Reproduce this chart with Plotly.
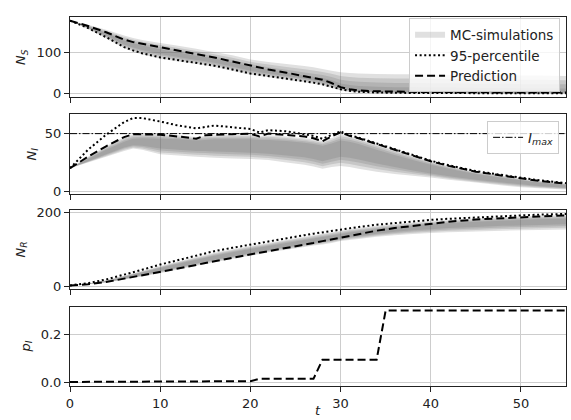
import plotly.graph_objects as go

# Time grid (days) shared by the compartment curves
T = [0, 2, 4, 6, 7, 8, 10, 12, 14, 15, 16, 18, 20, 21, 22, 24, 26, 27, 28, 29,
     30, 31, 32, 34, 36, 38, 40, 42, 45, 48, 50, 52, 55]

# Susceptible N_S
PRED_S = [176, 163, 148, 130, 124, 120, 112, 104, 96, 92, 87, 77, 67, 62, 58, 50, 42, 38, 33, 25,
          15, 10, 7, 5, 4, 3, 3, 3, 2, 2, 2, 2, 2]
Q95_S = [176, 158, 136, 112, 104, 97, 87, 80, 74, 71, 67, 58, 48, 45, 42, 36, 30, 26, 22, 16,
         10, 6, 4, 2, 1, 1, 1, 0.5, 0, 0, 0, 0, 0]
MC_HI_S = [176, 166, 154, 140, 134, 129, 122, 115, 108, 104, 100, 92, 82, 79, 76, 71, 66, 63, 59, 55,
           51, 49, 48, 47, 46, 46, 45, 45, 44, 44, 43, 43, 42]
MC_LO_S = [176, 156, 133, 109, 101, 94, 84, 77, 71, 68, 64, 55, 45, 42, 39, 33, 27, 23, 19, 13,
           7, 4, 2, 1, 0, 0, 0, 0, 0, 0, 0, 0, 0]
CORE_HI_S = [176, 162, 146, 128, 121, 116, 107, 99, 91, 88, 84, 75, 65, 61, 57, 50, 43, 40, 37, 32,
             24, 20, 18, 16, 15, 15, 14, 14, 13, 13, 12, 12, 12]
CORE_LO_S = [176, 159, 140, 118, 111, 105, 95, 88, 81, 78, 74, 65, 55, 51, 48, 42, 36, 32, 28, 21,
             13, 8, 6, 4, 3, 3, 3, 2, 2, 2, 2, 2, 2]

# Infected N_I
PRED_I = [20, 30, 39, 47, 49.5, 49.5, 49, 47.5, 45.5, 48.5, 49, 49.5, 50, 47.5, 50, 49, 47.5, 46, 43.5, 47.5,
          51, 48, 46, 41, 36, 31, 26, 22, 17, 13.5, 11, 9, 6.5]
Q95_I = [20, 36, 49, 60, 63.5, 63.5, 60.5, 57, 54.5, 56, 57, 55.5, 54, 51, 53, 52, 49.5, 48, 45.5, 48.5,
         52, 48.5, 46.5, 41.5, 36.5, 31.5, 26.5, 22.5, 17.5, 14, 11.5, 9.5, 7]
MC_HI_I = [20, 30, 39, 47, 49.5, 50, 49.5, 48.5, 47, 48, 48.5, 49, 49, 48, 48.5, 47.5, 46, 45, 43.5, 46,
           49.5, 48, 46, 41, 36, 31, 26, 22, 17, 13.5, 11, 9, 6.5]
MC_LO_I = [20, 25, 30, 35, 37, 36, 32, 31, 30, 29.5, 29, 28.5, 28, 27.5, 27, 25, 23, 21.5, 19.5, 21,
           22, 21, 19.5, 17, 15, 13.5, 12, 10, 7.5, 5, 3.5, 2.5, 1.5]
CORE_HI_I = [20, 28, 36, 43, 45.5, 46, 45.5, 45, 44, 44.5, 45, 45, 45, 44.5, 44.5, 43.5, 42, 41, 39.5, 41.5,
             44, 43, 41, 36, 31.5, 27, 23, 19.5, 15, 11.5, 9.5, 7.5, 5.5]
CORE_LO_I = [20, 26, 32, 38, 40, 39.5, 37, 36, 35, 35, 34.5, 34, 33.5, 33, 32.5, 31, 29.5, 28, 26, 28,
             30, 29, 27.5, 24, 21, 18, 15.5, 13, 10, 7.5, 6, 4.5, 3]
IMAX = 50

# Recovered N_R
PRED_R = [4, 7, 13, 22, 26, 30, 40, 50, 59, 64, 69, 78, 87, 92, 96, 104, 113, 118, 123, 128,
          133, 138, 143, 151, 158, 164, 170, 175, 181, 185, 187, 189, 192]
Q95_R = [4, 10, 20, 32, 39, 46, 60, 72, 84, 90, 96, 105, 114, 118, 122, 131, 139, 143, 147, 151,
         155, 158, 161, 167, 172, 176, 180, 183, 187, 190, 192, 194, 196]
MC_HI_R = [4, 9, 18, 30, 37, 43, 56, 68, 80, 86, 92, 101, 110, 114, 118, 127, 135, 139, 143, 147,
           151, 155, 158, 164, 169, 173, 177, 180, 184, 187, 189, 191, 193]
MC_LO_R = [4, 7, 12, 20, 24, 28, 37, 47, 57, 61, 66, 75, 84, 88, 93, 100, 107, 111, 114, 118,
           123, 126, 129, 135, 139, 142, 145, 147, 149, 151, 152, 153, 154]
CORE_HI_R = [4, 8, 16, 27, 33, 39, 51, 62, 73, 78, 84, 93, 102, 106, 110, 118, 126, 130, 134, 138,
             142, 146, 149, 155, 160, 164, 168, 171, 175, 178, 180, 182, 184]
CORE_LO_R = [4, 7, 13, 22, 27, 32, 42, 53, 63, 68, 73, 82, 91, 95, 99, 107, 114, 118, 122, 126,
             130, 134, 137, 143, 148, 152, 155, 158, 161, 164, 165, 166, 168]

# Infection probability p_I (piecewise constant by week)
T_P = [0, 13, 14, 20, 21, 27, 28, 34, 35, 55]
P_I = [0.002, 0.002, 0.005, 0.005, 0.015, 0.015, 0.095, 0.095, 0.30, 0.30]

FONT = "DejaVu Sans"
DASH = "8px,4px"
DOT = "2px,2.6px"
BAND_FILL = "rgba(100,100,100,0.2)"

fig = go.Figure()


def add_band(lo, hi, clo, chi, xa, ya, show):
    # stacked translucent layers shade from the outer envelope toward the dense core
    for k, f in enumerate([0.0, 1 / 3, 2 / 3, 1.0]):
        lk = [a + f * (c - a) for a, c in zip(lo, clo)]
        hk = [b + f * (d - b) for b, d in zip(hi, chi)]
        fig.add_trace(go.Scatter(
            x=T + T[::-1], y=hk + lk[::-1], mode="none", fill="toself",
            fillcolor=BAND_FILL, hoverinfo="skip",
            name="MC-simulations", showlegend=(show and k == 0), legend="legend",
            xaxis=xa, yaxis=ya))


def add_line(y, dash, name, xa, ya, show, x=None):
    fig.add_trace(go.Scatter(
        x=T if x is None else x, y=y, mode="lines",
        line=dict(color="black", width=2, dash=dash),
        name=name, showlegend=show, legend="legend", xaxis=xa, yaxis=ya))


add_band(MC_LO_S, MC_HI_S, CORE_LO_S, CORE_HI_S, "x", "y", True)
add_line(Q95_S, DOT, "95-percentile", "x", "y", True)
add_line(PRED_S, DASH, "Prediction", "x", "y", True)

add_band(MC_LO_I, MC_HI_I, CORE_LO_I, CORE_HI_I, "x2", "y2", False)
fig.add_trace(go.Scatter(
    x=[0, 55], y=[IMAX, IMAX], mode="lines",
    line=dict(color="black", width=1, dash="7px,2px,1.5px,2px"),
    name="<i>I<sub>max</sub></i>", legend="legend2", xaxis="x2", yaxis="y2"))
add_line(Q95_I, DOT, "95-percentile", "x2", "y2", False)
add_line(PRED_I, DASH, "Prediction", "x2", "y2", False)

add_band(MC_LO_R, MC_HI_R, CORE_LO_R, CORE_HI_R, "x3", "y3", False)
add_line(Q95_R, DOT, "95-percentile", "x3", "y3", False)
add_line(PRED_R, DASH, "Prediction", "x3", "y3", False)

add_line(P_I, DASH, "Prediction", "x4", "y4", False, x=T_P)

axis_common = dict(
    showline=True, mirror=True, linecolor="#222", linewidth=1,
    showgrid=True, gridcolor="#cdcdcd", gridwidth=1, zeroline=False,
    ticks="outside", ticklen=5, tickwidth=1, tickcolor="#222",
    tickfont=dict(family=FONT, size=13, color="#222"),
)

domains = [(0.7832, 1.0), (0.5203, 0.7371), (0.2629, 0.4770), (0.0, 0.2141)]
yranges = [(-8.8, 184.8), (-2.4, 67.0), (-5.6, 206.6), (-0.015, 0.315)]
yticks = [([0, 100], ["0", "100"]), ([0, 50], ["0", "50"]),
          ([0, 200], ["0", "200"]), ([0, 0.2], ["0.0", "0.2"])]

layout = dict(
    width=571, height=420,
    margin=dict(l=70, r=5, t=17, b=34),
    paper_bgcolor="white", plot_bgcolor="white",
    font=dict(family=FONT, size=13, color="#222"),
    legend=dict(x=0.988, y=0.996, xanchor="right", yanchor="top",
                bgcolor="rgba(255,255,255,0.8)", bordercolor="#cccccc", borderwidth=1,
                font=dict(family=FONT, size=13.5, color="#222"), itemwidth=30,
                tracegroupgap=0),
    legend2=dict(x=0.986, y=0.718, xanchor="right", yanchor="top",
                 bgcolor="rgba(255,255,255,0.8)", bordercolor="#cccccc", borderwidth=1,
                 font=dict(family=FONT, size=13.5, color="#222"), itemwidth=30),
)

for i in range(4):
    sx = "" if i == 0 else str(i + 1)
    layout["xaxis" + sx] = dict(
        axis_common, domain=[0, 1], range=[0, 55], anchor="y" + sx,
        tickvals=[0, 10, 20, 30, 40, 50], showticklabels=(i == 3),
        **({} if i == 0 else {"matches": "x"}))
    layout["yaxis" + sx] = dict(
        axis_common, domain=list(domains[i]), range=list(yranges[i]), anchor="x" + sx,
        tickvals=yticks[i][0], ticktext=yticks[i][1])

fig.update_layout(**layout)

# y-axis labels, centred on each panel
ylabels = ["<i>N<sub>S</sub></i>", "<i>N<sub>I</sub></i>", "<i>N<sub>R</sub></i>", "<i>p<sub>I</sub></i>"]
ylabel_x = [-0.0968, -0.0776, -0.0988, -0.0887]
for lab, xp, (d0, d1) in zip(ylabels, ylabel_x, domains):
    fig.add_annotation(text=lab, xref="paper", yref="paper", x=xp, y=(d0 + d1) / 2,
                       textangle=-90, showarrow=False, xanchor="center", yanchor="middle",
                       font=dict(family=FONT, size=13, color="#222"))

fig.add_annotation(text="<i>t</i>", xref="paper", yref="paper", x=0.5, y=-0.0915,
                   showarrow=False, xanchor="center", yanchor="bottom",
                   font=dict(family=FONT, size=13, color="#222"))

fig.write_html("out.html")
